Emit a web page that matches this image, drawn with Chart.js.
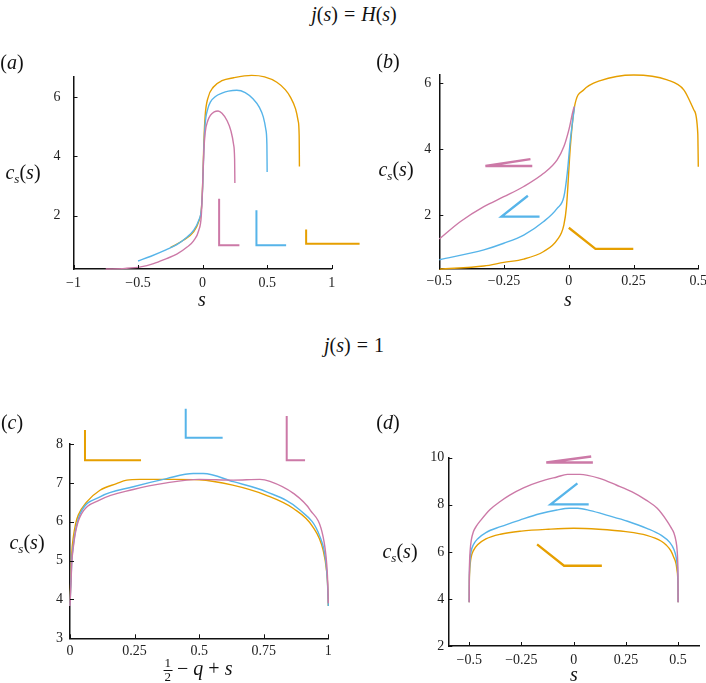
<!DOCTYPE html>
<html>
<head>
<meta charset="utf-8">
<script src="https://cdn.jsdelivr.net/npm/chart.js@4.4.0/dist/chart.umd.min.js"></script>
<style>
body{margin:0;background:#fff;width:706px;height:683px;position:relative;overflow:hidden;font-family:"Liberation Serif","DejaVu Serif",serif;}
canvas{position:absolute;}
.t{position:absolute;transform:translate(-50%,-50%);white-space:nowrap;font-size:20px;color:#111;line-height:1;}
.t sub{font-size:13px;vertical-align:-4px;line-height:0;}
.t .op{margin:0 6px;}
.frac{display:inline-flex;flex-direction:column;align-items:center;font-size:13px;line-height:12px;vertical-align:middle;margin-right:5px;}
.frac span:first-child{border-bottom:1px solid #111;padding:0 1px 1px;}
</style>
</head>
<body>
<canvas id="chartA" width="362" height="262" style="left:0;top:40px"></canvas>
<canvas id="chartB" width="354" height="262" style="left:352px;top:40px"></canvas>
<canvas id="chartC" width="362" height="288" style="left:0;top:395px"></canvas>
<canvas id="chartD" width="354" height="288" style="left:352px;top:395px"></canvas>

<div class="t" style="left:354px;top:14px"><i>j</i>(<i>s</i>)<span class="op">=</span><i>H</i>(<i>s</i>)</div>
<div class="t" style="left:354px;top:345px"><i>j</i>(<i>s</i>)<span class="op">=</span>1</div>
<div class="t" style="left:12px;top:62px">(<i>a</i>)</div>
<div class="t" style="left:388px;top:61px">(<i>b</i>)</div>
<div class="t" style="left:12px;top:422px">(<i>c</i>)</div>
<div class="t" style="left:388px;top:422px">(<i>d</i>)</div>
<div class="t" style="left:23px;top:172px"><i>c</i><sub><i>s</i></sub>(<i>s</i>)</div>
<div class="t" style="left:396px;top:169px"><i>c</i><sub><i>s</i></sub>(<i>s</i>)</div>
<div class="t" style="left:27px;top:542px"><i>c</i><sub><i>s</i></sub>(<i>s</i>)</div>
<div class="t" style="left:400px;top:551px"><i>c</i><sub><i>s</i></sub>(<i>s</i>)</div>
<div class="t" style="left:202px;top:299px"><i>s</i></div>
<div class="t" style="left:568px;top:299px"><i>s</i></div>
<div class="t" style="left:198px;top:670px"><span class="frac"><span>1</span><span>2</span></span>− <i>q</i> + <i>s</i></div>
<div class="t" style="left:574px;top:674px"><i>s</i></div>

<script>
var pink = '#CC79A7', blue = '#56B4E9', orange = '#E69F00';

// (a)  j(s) = H(s)
var aPinkS = [-0.75, -0.6, -0.48, -0.38, -0.28, -0.2, -0.12, -0.07, -0.03, -0.01, 0, 0.01, 0.02, 0.04, 0.06, 0.09, 0.12, 0.15, 0.19, 0.22, 0.24, 0.248, 0.25];
var aPinkC = [0.2, 0.22, 0.27, 0.38, 0.55, 0.7, 0.94, 1.15, 1.5, 2.0, 3.0, 4.2, 4.8, 5.2, 5.38, 5.5, 5.53, 5.45, 5.2, 4.85, 4.4, 3.9, 3.1];
var aBlueS = [-0.5, -0.4, -0.28, -0.2, -0.12, -0.07, -0.03, -0.01, 0, 0.01, 0.02, 0.04, 0.06, 0.1, 0.15, 0.2, 0.265, 0.33, 0.39, 0.44, 0.47, 0.49, 0.498, 0.5];
var aBlueC = [0.47, 0.63, 0.85, 1.02, 1.28, 1.5, 1.84, 2.2, 2.9, 4.3, 5.1, 5.6, 5.83, 6.02, 6.13, 6.2, 6.23, 6.15, 5.94, 5.65, 5.33, 4.9, 4.4, 3.47];
var aOrangeS = [-0.25, -0.15, -0.07, -0.03, -0.01, 0, 0.01, 0.02, 0.04, 0.084, 0.15, 0.24, 0.38, 0.48, 0.575, 0.64, 0.68, 0.72, 0.74, 0.748, 0.75];
var aOrangeC = [0.92, 1.17, 1.45, 1.8, 2.2, 3.0, 4.5, 5.38, 5.95, 6.34, 6.55, 6.65, 6.73, 6.68, 6.5, 6.25, 6.0, 5.6, 5.2, 4.7, 3.66];
var aMarkPinkS = [0.128, 0.128, 0.285], aMarkPinkC = [2.57, 1.0, 1.0];
var aMarkBlueS = [0.417, 0.417, 0.647], aMarkBlueC = [2.18, 1.0, 1.0];
var aMarkOrangeS = [0.802, 0.802, 1.216], aMarkOrangeC = [1.53, 1.05, 1.05];
var aTicksX = [-1, -0.5, 0, 0.5, 1], aTicksY = [2, 4, 6];

// (b)
var bPinkS = [-0.5, -0.418, -0.328, -0.251, -0.174, -0.097, -0.045, -0.019, 0, 0.019, 0.022];
var bPinkC = [1.28, 1.81, 2.26, 2.56, 2.87, 3.27, 3.68, 4.08, 4.58, 5.24, 5.29];
var bBlueS = [-0.5, -0.328, -0.251, -0.174, -0.097, -0.045, -0.019, -0.006, 0.006, 0.022];
var bBlueC = [0.65, 0.95, 1.15, 1.4, 1.81, 2.21, 2.56, 3.27, 4.28, 5.29];
var bOrangeS = [-0.5, -0.328, -0.251, -0.174, -0.097, -0.045, -0.019, -0.009, 0.006, 0.022, 0.058, 0.122, 0.251, 0.38, 0.444, 0.483, 0.498, 0.5];
var bOrangeC = [0.37, 0.46, 0.57, 0.67, 0.9, 1.25, 1.71, 2.26, 4.08, 5.29, 5.8, 6.08, 6.25, 6.1, 5.8, 5.19, 4.48, 3.47];
var bMarkPinkS = [-0.148, -0.322, -0.141], bMarkPinkC = [3.7, 3.49, 3.49];
var bMarkBlueS = [-0.158, -0.26, -0.113], bMarkBlueC = [2.59, 1.96, 1.96];
var bMarkOrangeS = [0, 0.103, 0.249], bMarkOrangeC = [1.62, 0.98, 0.98];
var bTicksX = [-0.5, -0.25, 0, 0.25, 0.5], bTicksY = [2, 4, 6];

// (c)  j(s) = 1
var cOrangeX = [0, 0.002, 0.004, 0.007, 0.013, 0.022, 0.032, 0.065, 0.116, 0.18, 0.22, 0.27, 0.4, 0.5, 0.63, 0.76, 0.865, 0.94, 0.98, 0.994, 0.998, 1.0];
var cOrangeC = [3.83, 4.3, 4.65, 5.2, 5.61, 5.95, 6.17, 6.51, 6.81, 6.98, 7.07, 7.09, 7.09, 7.08, 6.94, 6.68, 6.34, 5.87, 5.27, 4.7, 4.3, 3.83];
var cBlueX = [0, 0.002, 0.004, 0.007, 0.013, 0.022, 0.039, 0.116, 0.245, 0.374, 0.477, 0.516, 0.632, 0.761, 0.89, 0.968, 0.99, 0.997, 1.0];
var cBlueC = [3.83, 4.2, 4.5, 5.0, 5.4, 5.8, 6.2, 6.64, 6.9, 7.11, 7.24, 7.24, 7.03, 6.77, 6.3, 5.61, 5.0, 4.4, 3.83];
var cPinkX = [0, 0.002, 0.004, 0.007, 0.013, 0.022, 0.039, 0.116, 0.245, 0.374, 0.5, 0.632, 0.735, 0.774, 0.865, 0.93, 0.98, 0.994, 0.998, 1.0];
var cPinkC = [3.83, 4.15, 4.45, 4.95, 5.35, 5.75, 6.13, 6.56, 6.83, 7.0, 7.09, 7.07, 7.09, 7.04, 6.73, 6.3, 5.61, 4.9, 4.4, 3.9];
var cMarkOrangeX = [0.058, 0.058, 0.275], cMarkOrangeC = [8.36, 7.58, 7.58];
var cMarkBlueX = [0.448, 0.448, 0.591], cMarkBlueC = [8.91, 8.16, 8.16];
var cMarkPinkX = [0.839, 0.839, 0.91], cMarkPinkC = [8.72, 7.58, 7.58];
var cTicksX = [0, 0.25, 0.5, 0.75, 1], cTicksY = [3, 4, 5, 6, 7, 8];

// (d)
var dPinkS = [-0.5, -0.4995, -0.498, -0.495, -0.49, -0.48, -0.465, -0.444, -0.4, -0.35, -0.306, -0.24, -0.162, -0.08, -0.03, 0.03, 0.124, 0.204, 0.28, 0.347, 0.4, 0.444, 0.465, 0.48, 0.49, 0.495, 0.498, 0.4995, 0.5];
var dPinkC = [3.86, 4.9, 5.6, 6.1, 6.5, 6.85, 7.1, 7.35, 7.8, 8.15, 8.41, 8.72, 8.98, 9.18, 9.29, 9.29, 9.12, 8.84, 8.55, 8.2, 7.85, 7.35, 7.05, 6.8, 6.45, 6.1, 5.6, 4.9, 3.86];
var dBlueS = [-0.5, -0.4995, -0.498, -0.495, -0.49, -0.48, -0.46, -0.42, -0.35, -0.258, -0.162, -0.08, -0.02, 0.02, 0.08, 0.162, 0.258, 0.35, 0.42, 0.46, 0.48, 0.49, 0.495, 0.4995, 0.5];
var dBlueC = [3.86, 4.7, 5.3, 5.75, 6.05, 6.3, 6.55, 6.82, 7.07, 7.35, 7.62, 7.78, 7.85, 7.85, 7.75, 7.55, 7.3, 7.0, 6.7, 6.4, 6.1, 5.8, 5.5, 4.6, 3.86];
var dOrangeS = [-0.5, -0.4995, -0.498, -0.495, -0.49, -0.48, -0.46, -0.42, -0.35, -0.25, -0.12, 0, 0.12, 0.25, 0.35, 0.42, 0.443, 0.465, 0.48, 0.49, 0.495, 0.4995, 0.5];
var dOrangeC = [3.86, 4.6, 5.1, 5.5, 5.8, 6.05, 6.3, 6.55, 6.75, 6.88, 6.96, 7.0, 6.96, 6.86, 6.7, 6.45, 6.29, 6.05, 5.75, 5.5, 5.2, 4.5, 3.86];
var dMarkPinkS = [0.084, -0.131, 0.092], dMarkPinkC = [10.05, 9.8, 9.8];
var dMarkBlueS = [0.018, -0.11, 0.072], dMarkBlueC = [8.91, 8.02, 8.02];
var dMarkOrangeS = [-0.175, -0.046, 0.135], dMarkOrangeC = [6.32, 5.41, 5.41];
var dTicksX = [-0.5, -0.25, 0, 0.25, 0.5], dTicksY = [2, 4, 6, 8, 10];

function pts(xs, ys){
	return xs.map(function(x, i){ return {x: x, y: ys[i]}; });
}
function curve(xs, ys, col){
	return {data: pts(xs, ys), borderColor: col, borderWidth: 1.4, showLine: true, pointRadius: 0,
		cubicInterpolationMode: 'monotone', clip: false};
}
function mark(xs, ys, col, w){
	return {data: pts(xs, ys), borderColor: col, borderWidth: w, showLine: true, pointRadius: 0,
		tension: 0, clip: false, borderJoinStyle: 'miter'};
}
function fmt(v){
	return v < 0 ? '\u2212' + Math.abs(v) : String(v);
}

// tick marks pointing into the plot
var innerTicks = {
	id: 'innerTicks',
	afterDraw: function(chart){
		var ctx = chart.ctx, a = chart.chartArea, sx = chart.scales.x, sy = chart.scales.y;
		ctx.save();
		ctx.strokeStyle = '#111';
		ctx.lineWidth = 1;
		ctx.beginPath();
		sx.ticks.forEach(function(t){
			var p = Math.round(sx.getPixelForValue(t.value)) + 0.5;
			ctx.moveTo(p, a.bottom); ctx.lineTo(p, a.bottom - 4);
		});
		sy.ticks.forEach(function(t){
			var p = Math.round(sy.getPixelForValue(t.value)) + 0.5;
			ctx.moveTo(a.left, p); ctx.lineTo(a.left + 4, p);
		});
		ctx.stroke();
		ctx.restore();
	}
};

function makePanel(id, box, xr, yr, xt, yt, pads, datasets){
	var el = document.getElementById(id);
	var font = {family: '"Liberation Serif", "DejaVu Serif", serif', size: 14};
	new Chart(el, {
		type: 'scatter',
		data: {datasets: datasets},
		options: {
			responsive: false,
			animation: false,
			devicePixelRatio: 1,
			layout: {padding: {left: 0, top: box.top, right: el.width - box.right, bottom: 0}},
			plugins: {legend: {display: false}, tooltip: {enabled: false}},
			scales: {
				x: {
					type: 'linear', min: xr[0], max: xr[1],
					grid: {display: false, drawTicks: false},
					border: {display: true, color: '#111', width: 1.5},
					ticks: {font: font, color: '#222', padding: pads[0], maxRotation: 0, callback: fmt},
					afterBuildTicks: function(s){ s.ticks = xt.map(function(v){ return {value: v}; }); },
					afterFit: function(s){ s.height = el.height - box.bottom; s.paddingLeft = 0; s.paddingRight = 0; }
				},
				y: {
					type: 'linear', min: yr[0], max: yr[1],
					grid: {display: false, drawTicks: false},
					border: {display: true, color: '#111', width: 1.5},
					ticks: {font: font, color: '#222', padding: pads[1], callback: fmt},
					afterBuildTicks: function(s){ s.ticks = yt.map(function(v){ return {value: v}; }); },
					afterFit: function(s){ s.width = box.left; s.paddingTop = 0; s.paddingBottom = 0; }
				}
			}
		},
		plugins: [innerTicks]
	});
}

makePanel('chartA', {left: 73.5, top: 36.3, right: 331.7, bottom: 229}, [-1, 1], [0.2, 6.7], aTicksX, aTicksY, [6, 13], [
	curve(aPinkS, aPinkC, pink), curve(aBlueS, aBlueC, blue), curve(aOrangeS, aOrangeC, orange),
	mark(aMarkPinkS, aMarkPinkC, pink, 2), mark(aMarkBlueS, aMarkBlueC, blue, 2), mark(aMarkOrangeS, aMarkOrangeC, orange, 2)
]);
makePanel('chartB', {left: 87.3, top: 35, right: 346.3, bottom: 229}, [-0.5, 0.5], [0.37, 6.25], bTicksX, bTicksY, [4, 8], [
	curve(bPinkS, bPinkC, pink), curve(bBlueS, bBlueC, blue), curve(bOrangeS, bOrangeC, orange),
	mark(bMarkPinkS, bMarkPinkC, pink, 2.5), mark(bMarkBlueS, bMarkBlueC, blue, 2.3), mark(bMarkOrangeS, bMarkOrangeC, orange, 2.3)
]);
makePanel('chartC', {left: 70, top: 49, right: 328.3, bottom: 243.3}, [0, 1], [3, 8], cTicksX, cTicksY, [5, 7], [
	curve(cPinkX, cPinkC, pink), curve(cBlueX, cBlueC, blue), curve(cOrangeX, cOrangeC, orange),
	mark(cMarkOrangeX, cMarkOrangeC, orange, 2), mark(cMarkBlueX, cMarkBlueC, blue, 2), mark(cMarkPinkX, cMarkPinkC, pink, 2)
]);
makePanel('chartD', {left: 96.3, top: 62.7, right: 347, bottom: 251}, [-0.6, 0.6], [2, 10], dTicksX, dTicksY, [6, 4], [
	curve(dPinkS, dPinkC, pink), curve(dBlueS, dBlueC, blue), curve(dOrangeS, dOrangeC, orange),
	mark(dMarkPinkS, dMarkPinkC, pink, 2.5), mark(dMarkBlueS, dMarkBlueC, blue, 2.3), mark(dMarkOrangeS, dMarkOrangeC, orange, 2.3)
]);
</script>
</body>
</html>
